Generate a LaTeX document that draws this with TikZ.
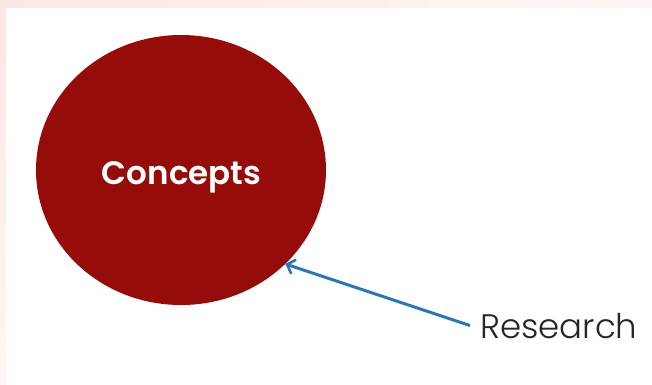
\documentclass[tikz,border=0pt]{standalone}
\usepackage{fontspec}
\newfontfamily\boldfont{Poppins}[UprightFont=* SemiBold]
\newfontfamily\lightfont{Poppins}[UprightFont=* Light]
\usetikzlibrary{shapes.geometric,arrows.meta}
\definecolor{conceptred}{RGB}{150,12,10}
\definecolor{arrowblue}{RGB}{46,117,182}
\definecolor{pinkA}{RGB}{252,230,232}
\definecolor{pinkB}{RGB}{254,246,246}
\tikzset{
  bigcircle/.style={ellipse, fill=conceptred, draw=none, minimum width=290pt, minimum height=270pt, inner sep=0pt},
  circletext/.style={text=white, font=\boldfont\fontsize{32.5}{36}\selectfont, inner sep=0pt},
  labeltext/.style={text=black!85, font=\lightfont\fontsize{34}{38}\selectfont, inner xsep=10pt, inner ysep=0pt},
  link/.style={draw=arrowblue, line width=3pt, -{Straight Barb[length=7pt,width=15pt,line width=2.6pt]}}
}
\begin{document}
\begin{tikzpicture}[x=1pt,y=-1pt]
\useasboundingbox (0,0) rectangle (652,384);
\fill[white] (0,0) rectangle (652,384);
\shade[left color=pinkA, right color=pinkB] (0,0) rectangle (652,7);
\shade[top color=pinkA, bottom color=pinkB] (0,0) rectangle (6,384);
\node[bigcircle] (c) at (181,170) {};
\node[circletext] (ct) at (181.5,177) {Concepts};
\node[labeltext, anchor=base west] (res) at (470,338) {Research};
\draw[link] (res.west) -- (c.-42);
\end{tikzpicture}
\end{document}
